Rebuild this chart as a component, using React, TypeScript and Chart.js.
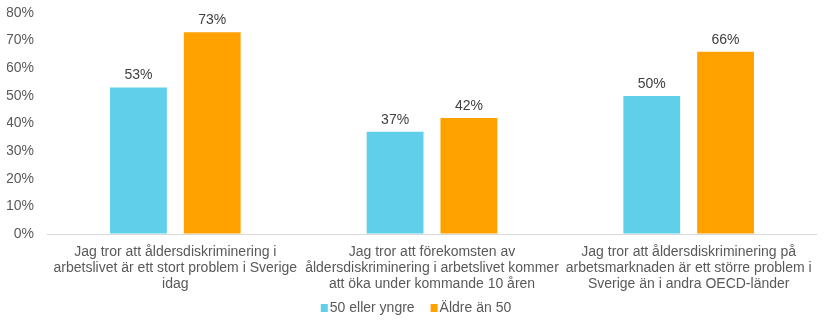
import React, { useEffect, useRef } from "react";
import { Chart, registerables } from "chart.js";

Chart.register(...registerables);

const categories: string[][] = [
  ["Jag tror att åldersdiskriminering i", "arbetslivet är ett stort problem i Sverige", "idag"],
  ["Jag tror att förekomsten av", "åldersdiskriminering i arbetslivet kommer", "att öka under kommande 10 åren"],
  ["Jag tror att åldersdiskriminering på", "arbetsmarknaden är ett större problem i", "Sverige än i andra OECD-länder"],
];
const seriesNames = ["50 eller yngre", "Äldre än 50"];
const younger = [53, 37, 50];
const older = [73, 42, 66];
const colors = ["#5FCFEA", "#FFA200"];

const FONT = "'Liberation Sans', Arial, sans-serif";

const valueLabels = {
  id: "valueLabels",
  afterDatasetsDraw(chart: any) {
    const ctx = chart.ctx;
    ctx.save();
    ctx.font = `14px ${FONT}`;
    ctx.fillStyle = "#404040";
    ctx.textAlign = "center";
    ctx.textBaseline = "middle";
    chart.data.datasets.forEach((ds: any, i: number) => {
      const meta = chart.getDatasetMeta(i);
      meta.data.forEach((bar: any, j: number) => {
        ctx.fillText(ds.data[j] + "%", bar.x, bar.y - 12);
      });
    });
    ctx.restore();
  },
};

const bottomLegend = {
  id: "bottomLegend",
  afterDraw(chart: any) {
    const ctx = chart.ctx;
    ctx.save();
    ctx.font = `14px ${FONT}`;
    ctx.textBaseline = "middle";
    ctx.textAlign = "left";
    const box = 7;
    const gapBoxText = 2;
    const gapItems = 16;
    const items = chart.data.datasets.map((ds: any) => ({
      label: ds.label,
      color: ds.backgroundColor,
      w: ctx.measureText(ds.label).width,
    }));
    const total = items.reduce((s: number, it: any) => s + box + gapBoxText + it.w, 0) + gapItems * (items.length - 1);
    let x = (chart.width - total) / 2 + 2;
    const y = 308;
    items.forEach((it: any) => {
      ctx.fillStyle = it.color;
      ctx.fillRect(x, y - 4, box, 8);
      x += box + gapBoxText;
      ctx.fillStyle = "#595959";
      ctx.fillText(it.label, x, y);
      x += it.w + gapItems;
    });
    ctx.restore();
  },
};

export default function App() {
  const ref = useRef<HTMLCanvasElement | null>(null);
  useEffect(() => {
    if (!ref.current) return;
    const chart = new Chart(ref.current, {
      type: "bar",
      data: {
        labels: categories,
        datasets: [
          { label: seriesNames[0], data: younger, backgroundColor: colors[0], categoryPercentage: 0.575, barPercentage: 0.77 },
          { label: seriesNames[1], data: older, backgroundColor: colors[1], categoryPercentage: 0.575, barPercentage: 0.77 },
        ],
      },
      options: {
        animation: false,
        responsive: true,
        maintainAspectRatio: false,
        layout: { padding: { left: 7, right: 11, top: 13, bottom: 0 } },
        scales: {
          x: {
            grid: { display: false },
            border: { display: false },
            ticks: {
              color: "#595959",
              font: { family: FONT, size: 14, lineHeight: 1.15 },
              maxRotation: 0,
              autoSkip: false,
              padding: 2,
            },
            afterFit: (scale: any) => {
              scale.height = 90;
            },
          },
          y: {
            min: 0,
            max: 80,
            border: { display: false },
            grid: {
              color: (c: any) => (c.tick && c.tick.value === 0 ? "#d9d9d9" : "rgba(0,0,0,0)"),
              lineWidth: 1,
              drawTicks: false,
            },
            ticks: {
              stepSize: 10,
              color: "#595959",
              font: { family: FONT, size: 14 },
              padding: 13,
              callback: (v: any) => v + "%",
            },
            afterFit: (scale: any) => {
              scale.width = 40;
              scale.paddingTop = 0;
              scale.paddingBottom = 0;
            },
          },
        },
        plugins: {
          legend: { display: false },
          tooltip: { enabled: false },
        },
      },
      plugins: [valueLabels, bottomLegend],
    });
    return () => chart.destroy();
  }, []);
  return (
    <div style={{ position: "absolute", left: 0, top: 0, width: 828, height: 324 }}>
      <canvas ref={ref} />
    </div>
  );
}
